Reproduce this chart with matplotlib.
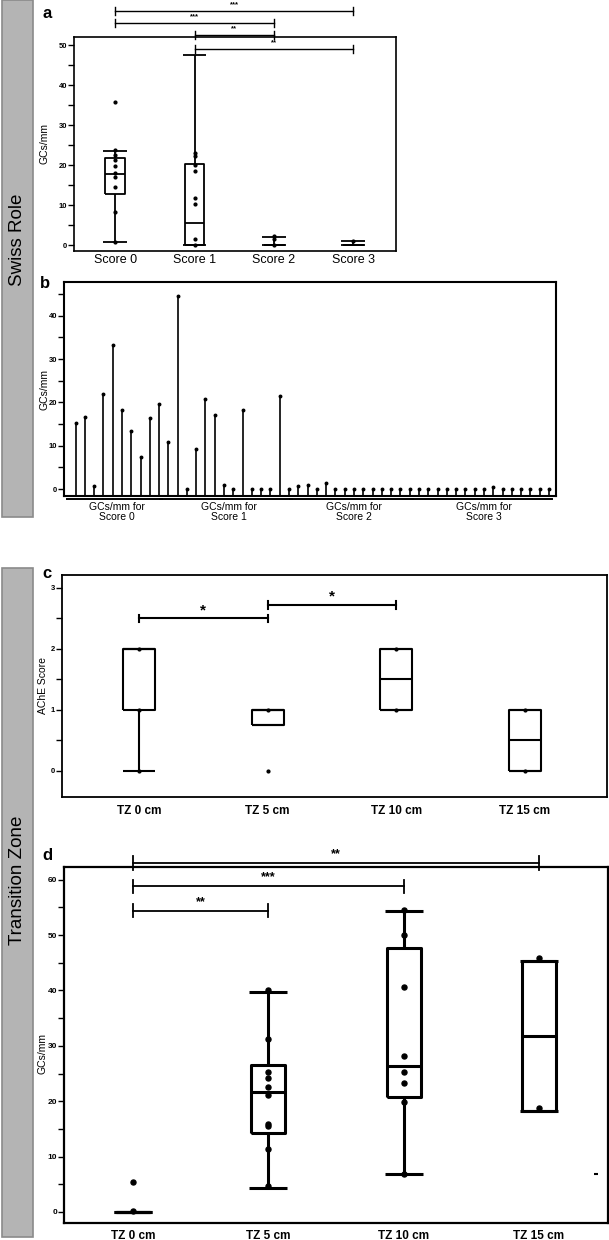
import matplotlib.pyplot as plt
from matplotlib.patches import Rectangle
from matplotlib.ticker import MultipleLocator
from matplotlib.transforms import blended_transform_factory

plt.rcParams['font.family'] = ['Liberation Sans', 'DejaVu Sans']

# ---- panel a: Swiss Role, GCs/mm by AChE score (box plots)
score_labels = ['Score 0', 'Score 1', 'Score 2', 'Score 3']
a_q1 = [12.8, 0.0, 0.0, 0.0]
a_med = [17.8, 5.6, 0.0, 0.0]
a_q3 = [21.7, 20.3, 0.0, 0.0]
a_lo = [0.8, 0.0, 0.0, 0.0]
a_hi = [23.6, 47.5, 2.0, 1.0]
a_points = [
    [35.7, 23.7, 22.5, 21.2, 19.7, 18.1, 16.9, 14.6, 8.3, 0.8],
    [23.1, 22.3, 20.0, 18.5, 11.8, 10.3, 1.4, 0.0],
    [2.2, 1.6, 0.0],
    [0.9],
]
a_sig = [(0, 3, 58.5, '***'), (0, 2, 55.5, '***'), (1, 2, 52.5, '**'), (1, 3, 49.0, '**')]

# ---- panel b: individual GCs/mm values per score group
b_groups = ['GCs/mm for\nScore 0', 'GCs/mm for\nScore 1', 'GCs/mm for\nScore 2', 'GCs/mm for\nScore 3']
b_score0 = [15.2, 16.7, 0.6, 22.0, 33.3, 18.2, 13.5, 7.5, 16.4, 19.7]
b_score1 = [10.8, 44.5, 0.0, 9.3, 20.8, 17.1, 1.0, 0.0, 18.3, 0.0, 0.0, 0.0, 21.5, 0.0]
b_score2 = [0.6, 1.0, 0.0, 1.5, 0.0, 0.0, 0.0, 0.0, 0.0, 0.0, 0.0, 0.0, 0.0]
b_score3 = [0.0, 0.0, 0.0, 0.0, 0.0, 0.0, 0.0, 0.0, 0.5, 0.0, 0.0, 0.0, 0.0, 0.0, 0.0]

# ---- panel c: Transition Zone, AChE score
tz_labels = ['TZ 0 cm', 'TZ 5 cm', 'TZ 10 cm', 'TZ 15 cm']
c_q1 = [1.0, 0.75, 1.0, 0.0]
c_med = [2.0, 1.0, 1.5, 0.5]
c_q3 = [2.0, 1.0, 2.0, 1.0]
c_lo = [0.0, 0.75, 1.0, 0.0]
c_hi = [2.0, 1.0, 2.0, 1.0]
c_points = [[2.0, 1.0, 0.0], [1.0, 0.0], [2.0, 1.0], [1.0, 0.0]]
c_sig = [(0, 1, 2.5, '*'), (1, 2, 2.72, '*')]

# ---- panel d: Transition Zone, GCs/mm
d_q1 = [0.0, 14.3, 20.7, 18.3]
d_med = [0.0, 21.6, 26.3, 31.8]
d_q3 = [0.0, 26.5, 47.6, 45.3]
d_lo = [0.0, 4.3, 6.9, 18.3]
d_hi = [0.0, 39.7, 54.3, 45.3]
d_points = [
    [5.4, 0.2],
    [40.0, 31.2, 25.3, 24.2, 22.6, 21.1, 15.9, 15.6, 11.4, 4.6],
    [54.6, 50.1, 40.7, 28.1, 25.3, 23.3, 19.8, 6.9],
    [45.9, 18.7],
]
d_sig = [(0, 1, 54.4, '**'), (0, 2, 58.8, '***'), (0, 3, 63.0, '**')]


def stats(q1, med, q3, lo, hi):
    return [dict(q1=a, med=b, q3=c, whislo=d, whishi=e, fliers=[])
            for a, b, c, d, e in zip(q1, med, q3, lo, hi)]


def boxes(ax, st, points, lw, ms, width, capw):
    pos = list(range(len(st)))
    line = dict(color='black', lw=lw, solid_capstyle='butt')
    ax.bxp(st, positions=pos, widths=width, capwidths=capw, showfliers=False,
           boxprops=line, whiskerprops=line, capprops=line, medianprops=line)
    for i, pts in enumerate(points):
        ax.plot([i] * len(pts), pts, 'o', color='black', ms=ms, zorder=5)


def sig_bar(ax, x1, x2, y, text, tick, fs, lw, gap):
    ax.plot([x1, x2], [y, y], color='black', lw=lw, clip_on=False)
    for x in (x1, x2):
        ax.plot([x, x], [y - tick, y + tick], color='black', lw=lw, clip_on=False)
    ax.text((x1 + x2) / 2, y + gap, text, ha='center', va='bottom',
            fontsize=fs, fontweight='bold', clip_on=False)


def style(ax, spine_lw, ytick_fs):
    for s in ax.spines.values():
        s.set_linewidth(spine_lw)
    ax.tick_params(axis='x', length=0)
    ax.tick_params(axis='y', which='major', length=4, width=1.0, labelsize=ytick_fs, pad=1)
    ax.tick_params(axis='y', which='minor', length=4, width=1.0)
    for t in ax.get_yticklabels():
        t.set_fontweight('bold')


W, H = 609, 1240
fig = plt.figure(figsize=(W / 100, H / 100), dpi=100)


def axes_px(x0, y0, x1, y1):
    return fig.add_axes([x0 / W, 1 - y1 / H, (x1 - x0) / W, (y1 - y0) / H])


# side labels
for (y0, y1, label, yc) in [(0, 517, 'Swiss Role', 240), (568, 1237, 'Transition Zone', 880)]:
    fig.add_artist(Rectangle((2 / W, 1 - y1 / H), 31 / W, (y1 - y0) / H, transform=fig.transFigure,
                             facecolor='#b4b4b4', edgecolor='#8a8a8a', lw=1.2, zorder=-1))
    fig.text(18 / W, 1 - yc / H, label, rotation=90, ha='center', va='center', fontsize=13.5)

# ---- a
ax = axes_px(74, 37, 396, 251)
boxes(ax, stats(a_q1, a_med, a_q3, a_lo, a_hi), a_points, 1.3, 2.0, 0.25, 0.3)
ax.set_xlim(-0.52, 3.54)
ax.set_ylim(-1.5, 52)
ax.yaxis.set_major_locator(MultipleLocator(10))
ax.yaxis.set_minor_locator(MultipleLocator(5))
ax.set_xticks(range(4))
ax.set_xticklabels(score_labels, fontsize=9)
ax.tick_params(axis='x', pad=2)
ax.set_ylabel('GCs/mm', fontsize=7.5)
ax.yaxis.set_label_coords(-0.075, 0.5)
style(ax, 1.2, 5.5)
for x1, x2, y, t in a_sig:
    sig_bar(ax, x1, x2, y, t, 0.9, 5.5, 1.0, 0.6)
fig.text(47 / W, 1 - 14 / H, 'a', fontsize=12, fontweight='bold', ha='center', va='center')

# ---- b
ax = axes_px(64, 282, 556, 496)
b_all = b_score0 + b_score1 + b_score2 + b_score3
xs = list(range(len(b_all)))
ax.set_ylim(-1.6, 47.8)
ax.vlines(xs, -1.6, b_all, color='black', lw=1.2)
ax.plot(xs, b_all, 'o', color='black', ms=1.8)
ax.set_xlim(-1.24, len(b_all) - 0.25)
ax.set_xticks([])
ax.yaxis.set_major_locator(MultipleLocator(10))
ax.yaxis.set_minor_locator(MultipleLocator(5))
ax.set_ylabel('GCs/mm', fontsize=7.5)
ax.yaxis.set_label_coords(-0.03, 0.5)
style(ax, 1.5, 5.5)
tr = blended_transform_factory(ax.transData, ax.transAxes)
start = 0
for grp, label in zip([b_score0, b_score1, b_score2, b_score3], b_groups):
    end = start + len(grp) - 1
    ax.plot([start - 0.9, end + 0.3], [-0.016, -0.016], color='black', lw=1.4,
            transform=tr, clip_on=False)
    ax.text((start + end) / 2, -0.03, label, transform=tr, ha='center', va='top',
            fontsize=7.5, linespacing=1.0)
    start = end + 1
fig.text(45 / W, 1 - 284 / H, 'b', fontsize=12, fontweight='bold', ha='center', va='center')

# ---- c
ax = axes_px(62, 575, 607, 797)
boxes(ax, stats(c_q1, c_med, c_q3, c_lo, c_hi), c_points, 1.5, 2.0, 0.25, 0.25)
ax.set_xlim(-0.6, 3.64)
ax.set_ylim(-0.43, 3.21)
ax.yaxis.set_major_locator(MultipleLocator(1))
ax.yaxis.set_minor_locator(MultipleLocator(0.5))
ax.set_xticks(range(4))
ax.set_xticklabels(tz_labels, fontsize=8.5, fontweight='bold')
ax.tick_params(axis='x', pad=6)
ax.set_ylabel('AChE Score', fontsize=7.5)
ax.yaxis.set_label_coords(-0.026, 0.5)
style(ax, 1.3, 5.5)
for x1, x2, y, t in c_sig:
    sig_bar(ax, x1, x2, y, t, 0.06, 11, 1.5, 0.02)
fig.text(47 / W, 1 - 574 / H, 'c', fontsize=12, fontweight='bold', ha='center', va='center')

# ---- d
ax = axes_px(64, 867, 608, 1223)
boxes(ax, stats(d_q1, d_med, d_q3, d_lo, d_hi), d_points, 2.2, 3.6, 0.25, 0.28)
ax.plot([3.42], [6.9], marker='_', color='black', ms=3, mew=1.5)
ax.set_xlim(-0.51, 3.51)
ax.set_ylim(-2.0, 62.3)
ax.yaxis.set_major_locator(MultipleLocator(10))
ax.yaxis.set_minor_locator(MultipleLocator(5))
ax.set_xticks(range(4))
ax.set_xticklabels(tz_labels, fontsize=8.5, fontweight='bold')
ax.tick_params(axis='x', pad=5)
ax.set_ylabel('GCs/mm', fontsize=7.5)
ax.yaxis.set_label_coords(-0.031, 0.475)
style(ax, 1.6, 6)
for x1, x2, y, t in d_sig:
    sig_bar(ax, x1, x2, y, t, 1.2, 9, 1.3, 0.5)
fig.text(47 / W, 1 - 856 / H, 'd', fontsize=12, fontweight='bold', ha='center', va='center')

fig.savefig('out.png', dpi=100)
